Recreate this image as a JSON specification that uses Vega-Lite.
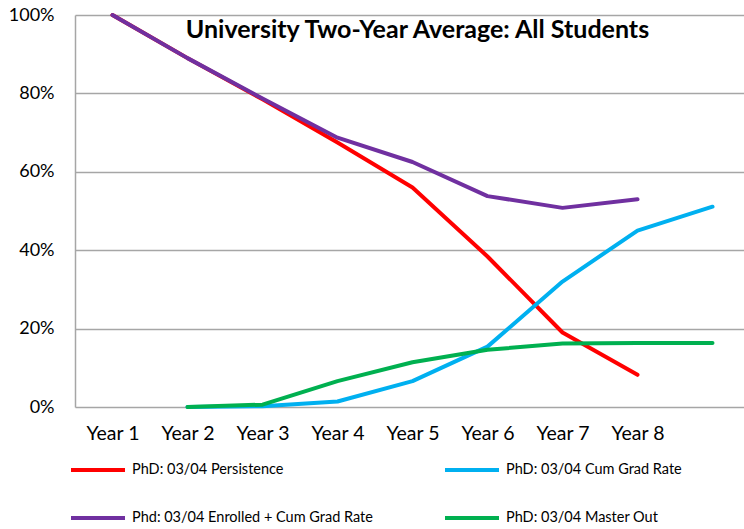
{
  "$schema": "https://vega.github.io/schema/vega-lite/v6.json",
  "width": 669,
  "height": 392,
  "autosize": "none",
  "padding": {"left": 75, "top": 15, "right": 0, "bottom": 122},
  "background": "white",
  "title": {
    "text": "University Two-Year Average: All Students",
    "font": "Lato",
    "fontSize": 25,
    "fontWeight": "bold",
    "color": "black",
    "anchor": "middle",
    "offset": -37,
    "dx": 8
  },
  "data": {
    "values": [
      {"year": 1, "series": "PhD: 03/04 Persistence", "value": 1.0},
      {"year": 2, "series": "PhD: 03/04 Persistence", "value": 0.89},
      {"year": 3, "series": "PhD: 03/04 Persistence", "value": 0.785},
      {"year": 4, "series": "PhD: 03/04 Persistence", "value": 0.675},
      {"year": 5, "series": "PhD: 03/04 Persistence", "value": 0.56},
      {"year": 6, "series": "PhD: 03/04 Persistence", "value": 0.384},
      {"year": 7, "series": "PhD: 03/04 Persistence", "value": 0.19},
      {"year": 8, "series": "PhD: 03/04 Persistence", "value": 0.082},
      {"year": 2, "series": "PhD: 03/04 Cum Grad Rate", "value": 0.0},
      {"year": 3, "series": "PhD: 03/04 Cum Grad Rate", "value": 0.002},
      {"year": 4, "series": "PhD: 03/04 Cum Grad Rate", "value": 0.014},
      {"year": 5, "series": "PhD: 03/04 Cum Grad Rate", "value": 0.066},
      {"year": 6, "series": "PhD: 03/04 Cum Grad Rate", "value": 0.154},
      {"year": 7, "series": "PhD: 03/04 Cum Grad Rate", "value": 0.32},
      {"year": 8, "series": "PhD: 03/04 Cum Grad Rate", "value": 0.45},
      {"year": 9, "series": "PhD: 03/04 Cum Grad Rate", "value": 0.511},
      {"year": 1, "series": "Phd: 03/04 Enrolled + Cum Grad Rate", "value": 1.0},
      {"year": 2, "series": "Phd: 03/04 Enrolled + Cum Grad Rate", "value": 0.89},
      {"year": 3, "series": "Phd: 03/04 Enrolled + Cum Grad Rate", "value": 0.787},
      {"year": 4, "series": "Phd: 03/04 Enrolled + Cum Grad Rate", "value": 0.687},
      {"year": 5, "series": "Phd: 03/04 Enrolled + Cum Grad Rate", "value": 0.625},
      {"year": 6, "series": "Phd: 03/04 Enrolled + Cum Grad Rate", "value": 0.538},
      {"year": 7, "series": "Phd: 03/04 Enrolled + Cum Grad Rate", "value": 0.508},
      {"year": 8, "series": "Phd: 03/04 Enrolled + Cum Grad Rate", "value": 0.53},
      {"year": 2, "series": "PhD: 03/04 Master Out", "value": 0.0},
      {"year": 3, "series": "PhD: 03/04 Master Out", "value": 0.006},
      {"year": 4, "series": "PhD: 03/04 Master Out", "value": 0.066},
      {"year": 5, "series": "PhD: 03/04 Master Out", "value": 0.114},
      {"year": 6, "series": "PhD: 03/04 Master Out", "value": 0.146},
      {"year": 7, "series": "PhD: 03/04 Master Out", "value": 0.162},
      {"year": 8, "series": "PhD: 03/04 Master Out", "value": 0.163},
      {"year": 9, "series": "PhD: 03/04 Master Out", "value": 0.163}
    ]
  },
  "mark": {"type": "line", "strokeWidth": 4, "strokeCap": "round", "strokeJoin": "round"},
  "encoding": {
    "x": {
      "field": "year",
      "type": "quantitative",
      "scale": {"domain": [0.5, 9.42], "nice": false, "zero": false},
      "axis": {
        "title": null,
        "values": [1, 2, 3, 4, 5, 6, 7, 8],
        "labelExpr": "'Year ' + datum.value",
        "labelFont": "Lato",
        "labelFontSize": 19.5,
        "labelColor": "black",
        "labelPadding": 17,
        "labelFlush": false,
        "labelOverlap": false,
        "ticks": false,
        "tickSize": 0,
        "grid": false,
        "domain": false
      }
    },
    "y": {
      "field": "value",
      "type": "quantitative",
      "scale": {"domain": [0, 1]},
      "axis": {
        "title": null,
        "values": [0, 0.2, 0.4, 0.6, 0.8, 1],
        "format": ".0%",
        "labelFont": "Lato",
        "labelFontSize": 18,
        "labelColor": "black",
        "labelPadding": 21,
        "labelFlush": false,
        "ticks": false,
        "tickSize": 0,
        "grid": true,
        "gridColor": "#A6A6A6",
        "gridWidth": 1.5,
        "gridOpacity": 1,
        "domain": true,
        "domainColor": "#A6A6A6",
        "domainWidth": 1.5
      }
    },
    "color": {
      "field": "series",
      "type": "nominal",
      "scale": {
        "domain": ["PhD: 03/04 Persistence", "PhD: 03/04 Cum Grad Rate", "Phd: 03/04 Enrolled + Cum Grad Rate", "PhD: 03/04 Master Out"],
        "range": ["#FF0000", "#00B0F0", "#7030A0", "#00B050"]
      },
      "legend": {
        "title": null,
        "orient": "none",
        "legendX": -6,
        "legendY": 426,
        "columns": 2,
        "direction": "horizontal",
        "columnPadding": 64,
        "rowPadding": 11,
        "symbolType": "stroke",
        "symbolSize": 2916,
        "symbolStrokeWidth": 4,
        "labelFont": "Lato",
        "labelFontSize": 14.5,
        "labelColor": "black",
        "labelOffset": 5,
        "labelLimit": 400
      }
    },
    "order": {"field": "year"}
  },
  "config": {"view": {"stroke": null}}
}
